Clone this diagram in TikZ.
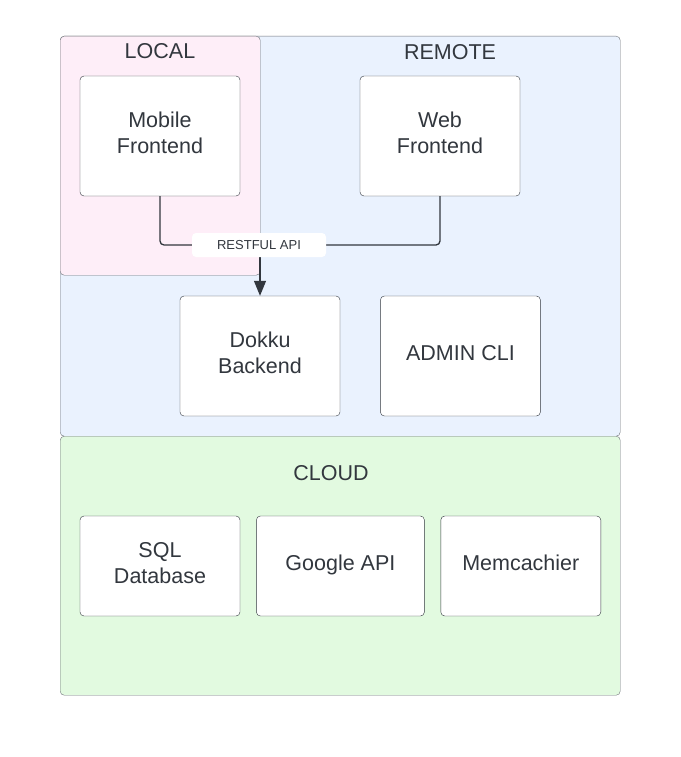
\documentclass[tikz,border=0pt]{standalone}
\usepackage{fontspec}
\setmainfont{Liberation Sans}
\usetikzlibrary{arrows.meta, positioning}
\definecolor{remoteblue}{RGB}{234,242,254}
\definecolor{localpink}{RGB}{254,238,248}
\definecolor{cloudgreen}{RGB}{226,250,224}
\definecolor{edgegray}{RGB}{110,114,120}
\definecolor{textdark}{RGB}{50,55,62}

\begin{document}
\begin{tikzpicture}[x=1pt, y=-1pt, >=Triangle,
    area/.style={draw=edgegray, rectangle, rounded corners=4pt, anchor=north west, inner sep=0pt},
    block/.style={draw=textdark, fill=white, rectangle, rounded corners=4pt, minimum width=160pt, minimum height=120pt, align=center, text depth=6pt, font=\fontsize{21.5}{26}\selectfont, text=textdark},
    title/.style={font=\fontsize{21.5}{26}\selectfont, text=textdark},
    link/.style={draw=textdark, line width=1.3pt, rounded corners=4pt}]
    \useasboundingbox (0,0) rectangle (680,757);
    % containers
    \node[area, fill=remoteblue, minimum width=560pt, minimum height=400pt] (remote) at (60,36) {};
    \node[area, fill=cloudgreen, minimum width=560pt, minimum height=259pt] (cloud) at (60,436) {};
    \node[area, fill=localpink, minimum width=200pt, minimum height=239pt] (local) at (60,36) {};
    \node[title] (localtitle) at (160,51) {LOCAL};
    \node[title] (remotetitle) at (450,52) {REMOTE};
    \node[title] (cloudtitle) at (331,473) {CLOUD};
    % components
    \node[block] (mobile) at (160,136) {Mobile\\Frontend};
    \node[block] (web) at (440,136) {Web\\Frontend};
    \node[block] (dokku) at (260,356) {Dokku\\Backend};
    \node[block, right=40pt of dokku] (admin) {ADMIN CLI};
    \node[block, minimum height=100pt] (sql) at (160,566) {SQL\\Database};
    \node[block, minimum width=168pt, minimum height=100pt, right=16pt of sql] (google) {Google API};
    \node[block, minimum height=100pt, right=16pt of google] (memc) {Memcachier};
    % connectors
    \coordinate (join) at (260,245);
    \draw[link] (mobile.south) |- (join);
    \draw[link] (web.south) |- (join);
    \draw[link, -{Triangle[length=15pt, width=12pt]}] (join) -- (dokku.north);
    \node[fill=white, rounded corners=4pt, minimum width=134pt, minimum height=24pt, font=\fontsize{13}{15}\selectfont, text=textdark] (api) at (259,245) {RESTFUL API};
\end{tikzpicture}
\end{document}
